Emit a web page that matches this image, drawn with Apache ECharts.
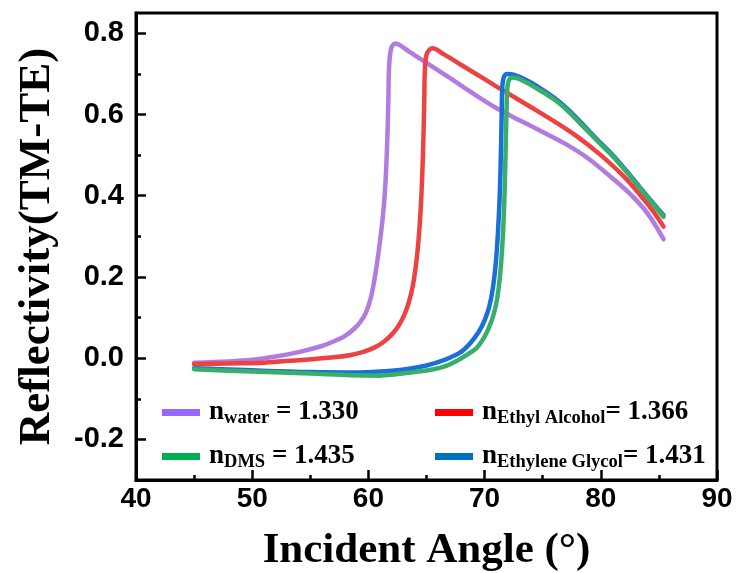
<!DOCTYPE html>
<html>
<head>
<meta charset="utf-8">
<script src="https://cdn.jsdelivr.net/npm/echarts@6/dist/echarts.min.js"></script>
<style>
html,body{margin:0;padding:0;background:#fff;}
#chart{width:739px;height:573px;}
</style>
</head>
<body>
<div id="chart"></div>
<script>
// ---- data ----
const waterX = [45,48,50,52,54,56,57,58,58.8,59.3,59.8,60.2,60.5,60.8,61.05,61.25,61.42,61.55,61.65,61.72,61.77,61.95,62.3,63.5,65,67,69,71,73,75,77,79,81,82.5,84,85.4];
const waterY = [-0.011,-0.008,-0.004,0.004,0.015,0.03,0.041,0.055,0.073,0.089,0.113,0.148,0.19,0.245,0.3,0.35,0.41,0.48,0.56,0.64,0.71,0.762,0.775,0.755,0.727,0.69,0.652,0.616,0.586,0.557,0.527,0.49,0.443,0.405,0.357,0.293];

const ethylX = [45,48,51,54,57,58.5,59.5,60.5,61.3,62,62.6,63.1,63.5,63.8,64.05,64.25,64.42,64.56,64.67,64.75,64.81,64.86,64.98,65.2,65.5,66.5,68,70,72,74,76,78,80,82,83.5,84.5,85.4];
const ethylY = [-0.015,-0.013,-0.011,-0.005,0.002,0.008,0.015,0.026,0.04,0.058,0.08,0.107,0.14,0.175,0.22,0.27,0.33,0.4,0.48,0.56,0.64,0.71,0.745,0.758,0.763,0.748,0.722,0.687,0.652,0.618,0.583,0.545,0.5,0.447,0.398,0.362,0.324];

const glycolX = [45,50,55,59.3,62,63.5,65,66,67,68,68.8,69.5,70,70.4,70.7,70.95,71.15,71.3,71.4,71.47,71.53,71.7,72,72.5,73.5,74.5,76,77.2,78.2,79.6,81.1,82.5,84,85.4];
const glycolY = [-0.025,-0.03,-0.034,-0.035,-0.031,-0.026,-0.018,-0.01,0.001,0.016,0.038,0.065,0.093,0.127,0.17,0.23,0.31,0.4,0.5,0.6,0.67,0.695,0.7,0.698,0.686,0.67,0.641,0.612,0.583,0.541,0.498,0.451,0.399,0.352];

const dmsX = [45,50,55,58.5,61,62.2,64,65.5,66.5,67.5,68.4,69.3,69.9,70.4,70.8,71.1,71.35,71.55,71.7,71.8,71.88,71.95,72.1,72.5,73.5,74.5,76,77.2,78.2,79.6,81.1,82.5,84,85.4];
const dmsY = [-0.027,-0.033,-0.038,-0.042,-0.043,-0.04,-0.034,-0.028,-0.021,-0.008,0.007,0.025,0.048,0.077,0.11,0.15,0.21,0.29,0.39,0.5,0.6,0.66,0.685,0.691,0.68,0.664,0.637,0.608,0.579,0.538,0.495,0.449,0.397,0.348];

const seriesNames = ['water','Ethyl Alcohol','Ethylene Glycol','DMS'];
const seriesIndexValues = ['1.330','1.366','1.431','1.435'];
const xTickLabels = [40,50,60,70,80,90];
const yTickLabels = [-0.2,0.0,0.2,0.4,0.6,0.8];
const yMinorTicks = [-0.1,0.1,0.3,0.5,0.7];

const lineColors = ['#B27BE0','#EE4242','#1B6FDB','#38AE6B'];
const swatchColors = ['#9966FF','#FF0000','#0070C0','#00B050'];

function zip(xs, ys){ return xs.map((x,i)=>[x, ys[i]]); }
const allData = [zip(waterX,waterY), zip(ethylX,ethylY), zip(glycolX,glycolY), zip(dmsX,dmsY)];

const chart = echarts.init(document.getElementById('chart'));

const richLegend = {
  g: {width: 4},
  n: {fontFamily: 'Liberation Serif', fontWeight: 'bold', fontSize: 27, color: '#000', lineHeight: 30, verticalAlign: 'middle'},
  s: {fontFamily: 'Liberation Serif', fontWeight: 'bold', fontSize: 18.5, color: '#000', lineHeight: 14, verticalAlign: 'bottom'}
};

// legend positions (water, ethyl, glycol, dms)
const legendPos = [[162,399],[435,399],[435,443],[162,443]];

const legends = seriesNames.map((name,i)=>({
  data: [{name: name, itemStyle: {color: swatchColors[i]}}],
  left: legendPos[i][0],
  top: legendPos[i][1],
  padding: 0,
  icon: 'rect',
  itemWidth: 38,
  itemHeight: 7,
  selectedMode: false,
  formatter: n => '{g|}{n|n}{s|' + n + '}{n|' + (n.indexOf(' ')>=0 ? '' : ' ') + '= ' + seriesIndexValues[seriesNames.indexOf(n)] + '}',
  textStyle: {rich: richLegend}
}));

chart.setOption({
  animation: false,
  backgroundColor: '#fff',
  grid: {left: 136, right: 22, top: 13, bottom: 93, show: true, borderColor: '#000', borderWidth: 3,
    backgroundColor: 'transparent', containLabel: false, outerBoundsMode: 'none'},
  legend: legends,
  xAxis: {
    type: 'value', min: 40, max: 90, interval: 10,
    name: 'Incident Angle (°)', nameLocation: 'middle', nameGap: 49,
    nameTextStyle: {fontFamily: 'Liberation Serif', fontWeight: 'bold', fontSize: 43, color: '#000'},
    axisLine: {show: true, onZero: false, lineStyle: {color: '#000', width: 3}},
    axisTick: {show: true, inside: true, length: 10, lineStyle: {color: '#000', width: 2.5}},
    minorTick: {show: true, splitNumber: 2, length: 5, lineStyle: {color: '#000', width: 2.5}},
    axisLabel: {margin: 5, fontFamily: 'Liberation Sans', fontWeight: 'bold', fontSize: 28, color: '#000',
      customValues: xTickLabels},
    splitLine: {show: false}
  },
  yAxis: [{
    type: 'value', min: -0.3, max: 0.85,
    name: 'Reflectivity(TM-TE)', nameLocation: 'middle', nameGap: 76, nameRotate: 90,
    nameTextStyle: {fontFamily: 'Liberation Serif', fontWeight: 'bold', fontSize: 45, color: '#000'},
    axisLine: {show: true, onZero: false, lineStyle: {color: '#000', width: 3}},
    axisTick: {show: true, inside: true, length: 10, lineStyle: {color: '#000', width: 2.5}, customValues: yTickLabels},
    axisLabel: {margin: 12, fontFamily: 'Liberation Sans', fontWeight: 'bold', fontSize: 29, color: '#000',
      customValues: yTickLabels, formatter: v => v.toFixed(1)},
    splitLine: {show: false}
  },{
    type: 'value', min: -0.3, max: 0.85, position: 'left', offset: 0,
    axisLine: {show: false, onZero: false},
    axisTick: {show: true, inside: true, length: 5, lineStyle: {color: '#000', width: 2.5}, customValues: yMinorTicks},
    axisLabel: {show: false, customValues: yMinorTicks},
    splitLine: {show: false}
  }],
  series: seriesNames.map((name,i)=>({
    name: name, type: 'line', data: allData[i],
    showSymbol: false, symbol: 'none',
    smooth: 0.35,
    lineStyle: {color: lineColors[i], width: 4.5, cap: 'round', join: 'round'},
    itemStyle: {color: lineColors[i]},
    yAxisIndex: 0
  }))
});
</script>
</body>
</html>
